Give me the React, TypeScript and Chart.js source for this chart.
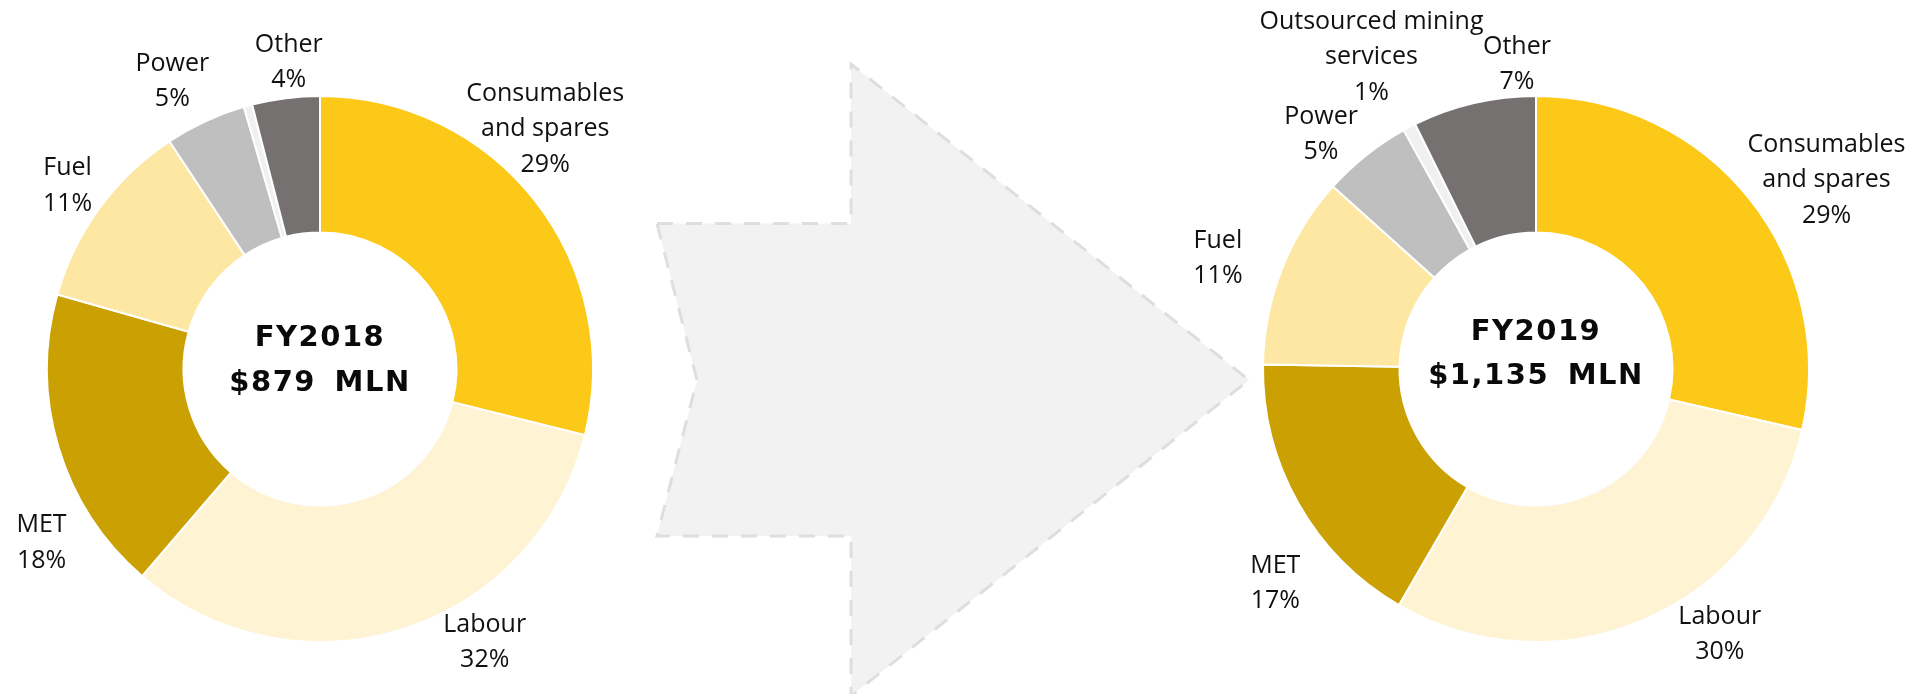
import React, { useEffect, useRef } from "react";
import { Chart, registerables } from "chart.js";

Chart.register(...registerables);

// ---- Data ----
const categories = [
  "Consumables and spares",
  "Labour",
  "MET",
  "Fuel",
  "Power",
  "Outsourced mining services",
  "Other",
];
const labelLines = [
  ["Consumables", "and spares"],
  ["Labour"],
  ["MET"],
  ["Fuel"],
  ["Power"],
  ["Outsourced mining", "services"],
  ["Other"],
];
const share2018 = [28.9, 32.4, 18.1, 11.3, 4.8, 0.5, 4.0];
const share2019 = [28.6, 29.8, 16.9, 11.4, 5.3, 0.75, 7.3];
const title2018 = ["FY2018", "$879 MLN"];
const title2019 = ["FY2019", "$1,135 MLN"];

// ---- Styles / layout ----
const colors = ["#FCC919", "#FEF3D3", "#CAA002", "#FDE7A3", "#BFBFBF", "#F0F0F0", "#767171"];
// label centre offsets from each slice's outer mid-point (null = no label)
const labelOffsets2018 = [[10, -72], [82, 13], [-17, 95], [-32, -22], [-33, -40], null, [3, -36]];
const labelOffsets2019 = [[77, -19], [75, 15], [-23, 80], [-64, -11], [-45, -21], [-38, -70], [43, -39]];

const LABEL_FONT = '25px "Open Sans"';
const LINE_H = 35.5;

function makePlugin(offsets: (number[] | null)[], title: string[], titleDy: number[]) {
  return {
    id: "donutLabels",
    afterDatasetsDraw(chart: any) {
      const ctx = chart.ctx;
      const meta = chart.getDatasetMeta(0);
      const data = chart.data.datasets[0].data as number[];
      const total = data.reduce((a, b) => a + b, 0);
      ctx.save();
      ctx.fillStyle = "#111111";
      ctx.font = LABEL_FONT;
      ctx.textAlign = "center";
      ctx.textBaseline = "middle";
      meta.data.forEach((arc: any, i: number) => {
        const off = offsets[i];
        if (!off) return;
        const p = arc.getProps(["x", "y", "startAngle", "endAngle", "outerRadius"], true);
        const mid = (p.startAngle + p.endAngle) / 2;
        const ax = p.x + Math.cos(mid) * p.outerRadius;
        const ay = p.y + Math.sin(mid) * p.outerRadius;
        const cx = ax + off[0];
        const cy = ay + off[1];
        const pct = Math.round((data[i] / total) * 100) + "%";
        const lines = [...labelLines[i], pct];
        lines.forEach((t, k) => {
          ctx.fillText(t, cx, cy + (k - (lines.length - 1) / 2) * LINE_H);
        });
      });
      // centre title
      const c = meta.data[0].getProps(["x", "y"], true);
      ctx.fillStyle = "#0A0A0A";
      ctx.font = 'bold 29px "DejaVu Sans"';
      (ctx as any).letterSpacing = "1.5px";
      (ctx as any).wordSpacing = "7px";
      ctx.fillText(title[0], c.x, c.y + titleDy[0]);
      ctx.fillText(title[1], c.x, c.y + titleDy[1]);
      ctx.restore();
    },
  };
}

function Donut(props: {
  values: number[];
  offsets: (number[] | null)[];
  title: string[];
  titleDy: number[];
  left: number;
  width: number;
  padding: { left: number; right: number; top: number; bottom: number };
}) {
  const ref = useRef<HTMLCanvasElement | null>(null);
  useEffect(() => {
    if (!ref.current) return;
    const chart = new Chart(ref.current, {
      type: "doughnut",
      data: {
        labels: categories,
        datasets: [
          {
            data: props.values,
            backgroundColor: colors,
            borderColor: "#FFFFFF",
            borderWidth: 2,
            hoverOffset: 0,
            offset: 0,
          },
        ],
      },
      options: {
        responsive: false,
        animation: false,
        devicePixelRatio: 1,
        cutout: "50%",
        radius: 273,
        layout: { padding: props.padding },
        plugins: { legend: { display: false }, tooltip: { enabled: false } },
        events: [],
      },
      plugins: [makePlugin(props.offsets, props.title, props.titleDy)],
    } as any);
    return () => chart.destroy();
  }, []);
  return (
    <canvas
      ref={ref}
      width={props.width}
      height={694}
      style={{ position: "absolute", left: props.left, top: 0, width: props.width, height: 694 }}
    />
  );
}

export default function App() {
  const arrowPts = "657,223.5 851,223.5 851,64 1249,380 851,696 851,536 657,536 697,380";
  return (
    <div
      style={{
        position: "absolute",
        left: 0,
        top: 0,
        width: 1909,
        height: 694,
        background: "#FFFFFF",
        overflow: "hidden",
      }}
    >
      <svg width={1909} height={694} style={{ position: "absolute", left: 0, top: 0 }}>
        <polygon
          points={arrowPts}
          fill="#F2F2F2"
          stroke="#DEDEDE"
          strokeWidth={3}
          strokeDasharray="16 13"
        />
      </svg>
      <Donut
        values={share2018}
        offsets={labelOffsets2018}
        title={title2018}
        titleDy={[-31, 14]}
        left={0}
        width={640}
        padding={{ left: 46, right: 46, top: 95, bottom: 51 }}
      />
      <Donut
        values={share2019}
        offsets={labelOffsets2019}
        title={title2019}
        titleDy={[-37, 7]}
        left={1150}
        width={759}
        padding={{ left: 112, right: 99, top: 95, bottom: 51 }}
      />
    </div>
  );
}
